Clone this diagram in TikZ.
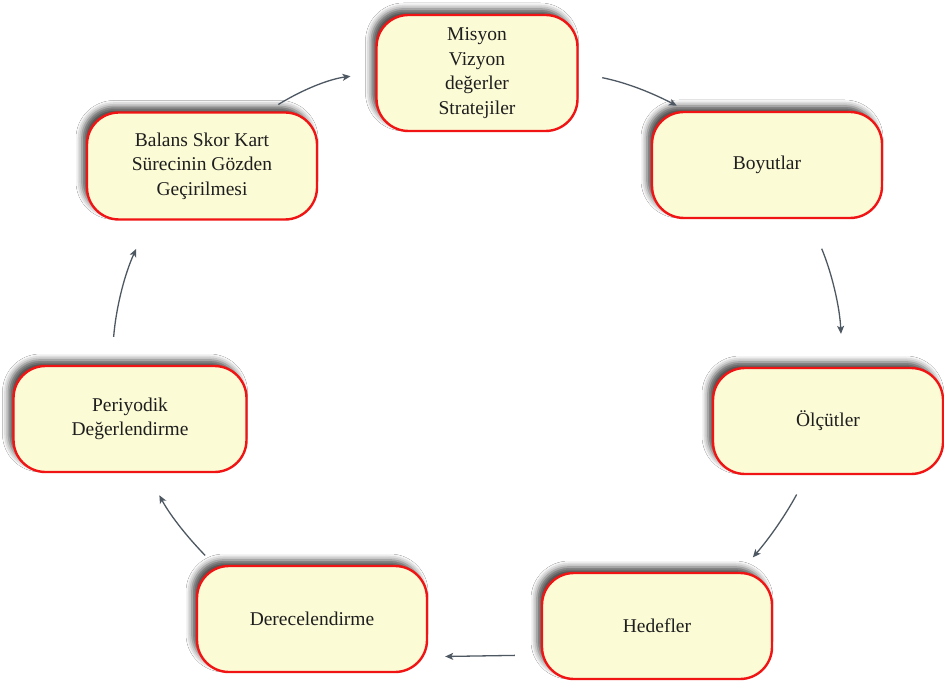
\documentclass[tikz,border=0pt]{standalone}
\usepackage{fontspec}
\setmainfont{Liberation Serif}
\usetikzlibrary{shadows.blur,arrows.meta}
\definecolor{boxfill}{RGB}{251,251,214}
\definecolor{boxline}{RGB}{240,20,20}
\definecolor{arrowgray}{RGB}{78,88,98}
\definecolor{txt}{RGB}{30,30,30}
\tikzset{
  stagebox/.style={rectangle, rounded corners=32pt, draw=boxline, line width=2.4pt,
    fill=boxfill, align=center, text=txt, font=\fontsize{19.5}{24.5}\selectfont,
    minimum width=230pt, minimum height=106pt, inner sep=4pt,
    blur shadow={shadow xshift=-5pt, shadow yshift=6pt, shadow blur radius=6pt, shadow opacity=70}},
  flow/.style={draw=arrowgray, line width=1.3pt, -{Stealth[length=8pt,width=7pt,inset=2pt]}}
}
\begin{document}
\begin{tikzpicture}[x=1pt,y=1pt]
\useasboundingbox (0,0) rectangle (944,-684);
\fill[white] (0,0) rectangle (944,-684);

\node[stagebox, minimum width=201pt, minimum height=116pt] (mis) at (477,-73) {Misyon\\Vizyon\\değerler\\Stratejiler};
\node[stagebox] (boy) at (767,-165) {Boyutlar};
\node[stagebox] (olc) at (828,-421) {Ölçütler};
\node[stagebox] (hed) at (657,-626) {Hedefler};
\node[stagebox] (der) at (312,-619) {Derecelendirme};
\node[stagebox, minimum width=233pt] (per) at (130,-419) {Periyodik\\Değerlendirme};
\node[stagebox, minimum height=107pt] (bal) at (202,-166) {Balans Skor Kart\\Sürecinin Gözden\\Geçirilmesi};

\draw[flow, shorten <=13pt, shorten >=25pt] (bal.40) to[bend left=12] (mis.west);
\draw[flow, shorten <=24pt, shorten >=11pt] (mis.east) to[bend left=8] (boy.146);
\draw[flow, shorten <=32pt, shorten >=33pt] (boy.-52) to[bend left=10] (olc.75);
\draw[flow, shorten <=22pt, shorten >=19pt] (olc.-111) to[bend left=6] (hed.33);
\draw[flow, shorten <=26pt, shorten >=17pt] (hed.194) to (der.-18);
\draw[flow, shorten <=13pt, shorten >=25pt] (der.151) to[bend left=8] (per.-72);
\draw[flow, shorten <=28pt, shorten >=31pt] (per.109) to[bend left=10] (bal.226);
\end{tikzpicture}
\end{document}
